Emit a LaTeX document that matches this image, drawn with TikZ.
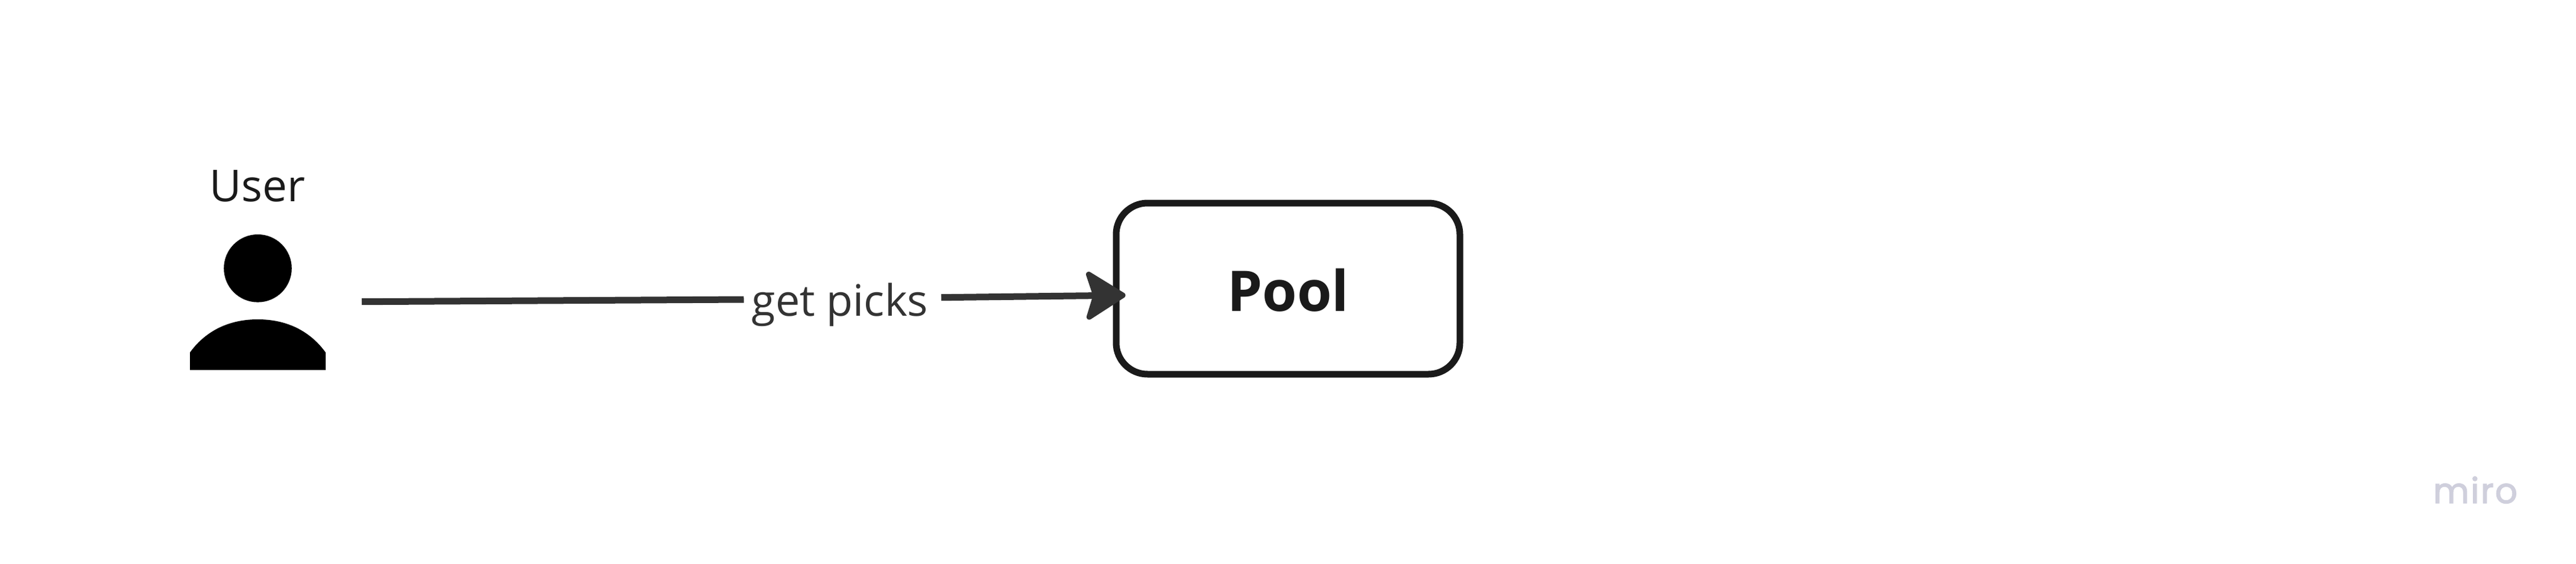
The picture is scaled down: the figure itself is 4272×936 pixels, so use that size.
\documentclass[tikz,border=0pt]{standalone}
\usepackage{fontspec}
\setmainfont{Open Sans}
\newfontfamily\mirofont[LetterSpace=4,FakeBold=2.4]{Poppins}
\usetikzlibrary{arrows.meta}
\definecolor{inkdark}{HTML}{1A1A1A}
\definecolor{linegrey}{HTML}{333333}
\definecolor{miroblue}{HTML}{CFCFDC}
\tikzset{
  x=1pt,y=-1pt,
  caption/.style={anchor=base,inner sep=0pt,text=inkdark,font=\fontsize{73}{80}\selectfont},
  linklabel/.style={anchor=base,inner sep=0pt,text=linegrey,font=\fontsize{72}{80}\selectfont},
  poolbox/.style={draw=inkdark,line width=11pt,rounded corners=52pt,fill=white,
    minimum width=570pt,minimum height=284pt,inner sep=0pt,text=inkdark,
    text height=74pt,text depth=0pt,font=\fontsize{93}{100}\selectfont\bfseries},
  iconpart/.style={fill=black,draw=none},
  link/.style={draw=linegrey,line width=11pt},
  linkarrow/.style={link,-{Stealth[round,length=72pt,width=90pt,inset=14pt,line width=9pt]}},
  brand/.style={anchor=base,inner sep=0pt,text=miroblue,font=\mirofont\fontsize{58}{64}\selectfont}
}
\begin{document}
\begin{tikzpicture}
\useasboundingbox (0,0) rectangle (4272,936);
\node[caption] (user) at (427,334) {User};
\node[iconpart,circle,minimum size=112.6pt,inner sep=0pt] (head) at (427.5,445.3) {};
\fill[black] (315,614) -- (315,585) .. controls (338,553) and (375,530) .. (427.5,530)
  .. controls (480,530) and (517,553) .. (540,585) -- (540,614) -- cycle;
\node[poolbox] (pool) at (2136,479) {Pool};
\node[linklabel] (picks) at (1393,524) {get picks};
\coordinate (start) at (600,500.7);
\coordinate (gapL) at (1233.5,497);
\coordinate (gapR) at (1561,493.7);
\coordinate (tip) at (1866.5,490);
\draw[link] (start) -- (gapL);
\draw[linkarrow] (gapR) -- (tip);
\node[brand] (miro) at (4105,835) {miro};
\end{tikzpicture}
\end{document}
